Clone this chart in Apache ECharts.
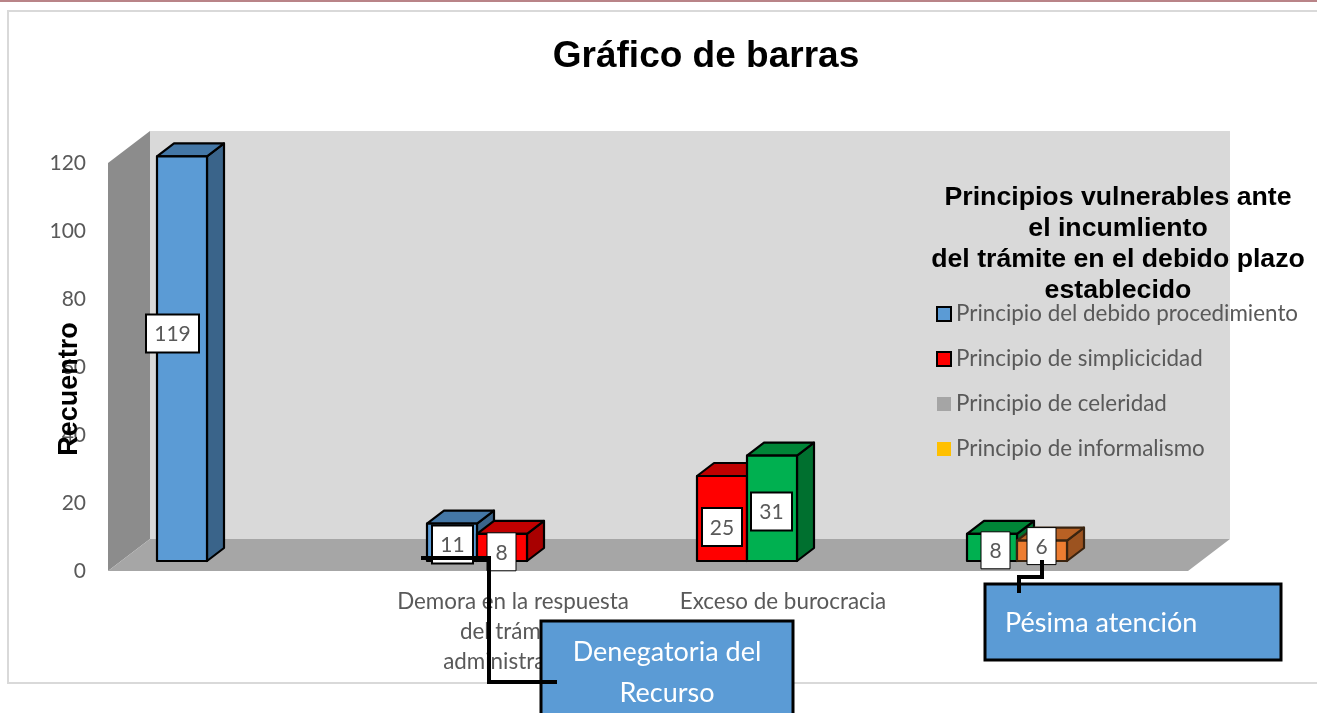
<!DOCTYPE html>
<html>
<head>
<meta charset="utf-8">
<title>Gráfico de barras</title>
<script src="https://cdn.jsdelivr.net/npm/echarts@6/dist/echarts.min.js"></script>
<style>
  html, body { margin: 0; padding: 0; background: #fff; }
  #main { width: 1317px; height: 713px; }
</style>
</head>
<body>
<div id="main"></div>
<script>
const categories = [
  'Denegatoria del\nRecurso',
  'Demora en la respuesta\ndel trámite\nadministrativo',
  'Exceso de burocracia',
  'Pésima atención'
]
const yTicks = [0, 20, 40, 60, 80, 100, 120]
const seriesNames = [
  'Principio del debido procedimiento',
  'Principio de simplicicidad',
  'Principio de celeridad',
  'Principio de informalismo'
]
const debidoProcedimiento = [119, 11, null, null]
const simplicidad = [null, 8, 25, null]
const celeridad = [null, null, 31, 8]
const informalismo = [null, null, null, 6]
const allValues = [debidoProcedimiento, simplicidad, celeridad, informalismo]

const fontText = 'Lato, "Open Sans", sans-serif'
const fontBold = '"Liberation Sans", Arial, sans-serif'
const textGrey = '#595959'

// front, top, side colour of each series box
const barColors = [
  ['#5B9BD5', '#4477A6', '#3A648A'],
  ['#FF0000', '#C00000', '#A80000'],
  ['#00B050', '#008537', '#00702F'],
  ['#ED7D31', '#B96124', '#9C5320']
]
const legendColors = ['#5B9BD5', '#FF0000', '#A5A5A5', '#FFC000']

// hand placed value boxes: dx, dy from the bar's top left corner, w, h, border width
const labelBoxes = {
  '0-0': [-11, 158, 53, 38, 2],
  '0-1': [5, 2, 41, 38, 2],
  '1-1': [10, -1, 29, 38, 1],
  '1-2': [5, 32, 40, 38, 2],
  '2-2': [4, 37, 41, 38, 2],
  '2-3': [14, -2, 29, 37, 1],
  '3-3': [10, -13, 29, 37, 1]
}

const wallDepthX = 42
const wallDepthY = 32
const barDepthX = 17
const barDepthY = 13
const barWidth = 50
const barFloorGap = 10

function renderWalls(params, api) {
  const cs = params.coordSys
  const y0 = api.coord([0, 0])[1]
  const yTop = api.coord([0, 120])[1]
  const x0 = cs.x
  const x1 = cs.x + cs.width
  return {
    type: 'group',
    children: [
      { type: 'rect', shape: { x: x0 + wallDepthX, y: yTop - wallDepthY, width: cs.width, height: y0 - yTop }, style: { fill: '#D9D9D9' } },
      { type: 'polygon', shape: { points: [[x0, yTop], [x0 + wallDepthX, yTop - wallDepthY], [x0 + wallDepthX, y0 - wallDepthY], [x0, y0]] }, style: { fill: '#8C8C8C' } },
      { type: 'polygon', shape: { points: [[x0, y0], [x1, y0], [x1 + wallDepthX, y0 - wallDepthY], [x0 + wallDepthX, y0 - wallDepthY]] }, style: { fill: '#A6A6A6' } }
    ]
  }
}

function makeRenderBar(seriesIndex) {
  return function (params, api) {
    const cat = api.value(0)
    const val = api.value(1)
    if (isNaN(val)) return
    // bars of a category sit side by side, empty series take no room
    let slot = 0
    for (let i = 0; i < seriesIndex; i++) {
      if (allValues[i][cat] !== null) slot++
    }
    const center = api.coord([cat, 0])
    const top = api.coord([cat, val])
    const x = center[0] - 86 + slot * barWidth
    const yTop = top[1] - barFloorGap
    const yBase = center[1] - barFloorGap
    const colors = barColors[seriesIndex]
    const line = { stroke: seriesIndex === 3 ? '#3a2410' : '#000', lineWidth: 2.2, lineJoin: 'round' }
    const children = [
      { type: 'polygon', shape: { points: [[x + barWidth, yTop], [x + barWidth + barDepthX, yTop - barDepthY], [x + barWidth + barDepthX, yBase - barDepthY], [x + barWidth, yBase]] }, style: Object.assign({ fill: colors[2] }, line) },
      { type: 'polygon', shape: { points: [[x, yTop], [x + barDepthX, yTop - barDepthY], [x + barWidth + barDepthX, yTop - barDepthY], [x + barWidth, yTop]] }, style: Object.assign({ fill: colors[1] }, line) },
      { type: 'rect', shape: { x: x, y: yTop, width: barWidth, height: yBase - yTop }, style: Object.assign({ fill: colors[0] }, line) }
    ]
    const box = labelBoxes[seriesIndex + '-' + cat]
    children.push({ type: 'rect', z2: 50, shape: { x: x + box[0], y: yTop + box[1], width: box[2], height: box[3] }, style: { fill: '#fff', stroke: '#000', lineWidth: box[4] } })
    children.push({ type: 'text', z2: 51, style: { text: String(val), x: x + box[0] + box[2] / 2, y: yTop + box[1] + box[3] / 2 + 1, align: 'center', verticalAlign: 'middle', fill: textGrey, fontFamily: fontText, fontSize: 21 } })
    return { type: 'group', children: children }
  }
}

const series = [{
  type: 'custom',
  name: 'walls',
  z: 1,
  silent: true,
  renderItem: renderWalls,
  data: [[0, 0]]
}]
seriesNames.forEach((name, idx) => {
  series.push({
    type: 'custom',
    name: name,
    z: 3,
    renderItem: makeRenderBar(idx),
    encode: { x: 0, y: 1 },
    data: allValues[idx].map((v, i) => [i, v])
  })
})

const option = {
  animation: false,
  title: [
    {
      text: 'Gráfico de barras',
      left: 701,
      top: 33,
      textAlign: 'center',
      textStyle: { fontFamily: fontBold, fontSize: 37, fontWeight: 'bold', color: '#000' }
    },
    {
      text: 'Principios vulnerables ante\nel incumliento\ndel trámite en el debido plazo\nestablecido',
      left: 1113,
      top: 177,
      textAlign: 'center',
      textStyle: { fontFamily: fontBold, fontSize: 26.7, fontWeight: 'bold', color: '#000', lineHeight: 31 }
    }
  ],
  grid: { left: 108, right: 129, top: 163, bottom: 142 },
  xAxis: {
    type: 'category',
    data: categories,
    axisLine: { show: false },
    axisTick: { show: false },
    axisLabel: {
      interval: 0,
      margin: 16,
      color: textGrey,
      fontFamily: fontText,
      fontSize: 22.4,
      lineHeight: 30,
      // first and last category name are shown in the callouts instead
      formatter: (v, i) => (i === 0 || i === 3 ? '' : v)
    }
  },
  yAxis: {
    type: 'value',
    min: yTicks[0],
    max: yTicks[yTicks.length - 1],
    interval: 20,
    axisLine: { show: false },
    axisTick: { show: false },
    splitLine: { show: false },
    axisLabel: { margin: 22, color: textGrey, fontFamily: fontText, fontSize: 21 }
  },
  legend: {
    orient: 'vertical',
    left: 931,
    top: 298,
    itemWidth: 14,
    itemHeight: 14,
    itemGap: 23,
    selectedMode: false,
    textStyle: { color: textGrey, fontFamily: fontText, fontSize: 22.4 },
    data: seriesNames.map((name, i) => ({
      name: name,
      icon: 'rect',
      itemStyle: { color: legendColors[i], borderColor: i < 2 ? '#000' : 'transparent', borderWidth: i < 2 ? 2 : 0 }
    }))
  },
  graphic: [
    { type: 'rect', z: 0, shape: { x: 0, y: 0, width: 1317, height: 2 }, style: { fill: '#B98488' } },
    { type: 'polyline', z: 0, shape: { points: [[1320, 11], [8, 11], [8, 683], [1320, 683]] }, style: { fill: 'none', stroke: '#D9D9D9', lineWidth: 2 } },
    { type: 'text', z: 20, rotation: Math.PI / 2, x: 70, y: 389, style: { text: 'Recuentro', align: 'center', verticalAlign: 'middle', fontFamily: fontBold, fontSize: 27, fontWeight: 'bold', fill: '#000' } },
    { type: 'rect', z: 30, shape: { x: 541, y: 621, width: 252, height: 100 }, style: { fill: '#5B9BD5', stroke: '#000', lineWidth: 3 } },
    { type: 'text', z: 31, x: 667, y: 652, style: { text: 'Denegatoria del', align: 'center', verticalAlign: 'middle', fontFamily: fontText, fontSize: 27, fill: '#fff' } },
    { type: 'text', z: 31, x: 667, y: 693, style: { text: 'Recurso', align: 'center', verticalAlign: 'middle', fontFamily: fontText, fontSize: 27, fill: '#fff' } },
    { type: 'polyline', z: 32, shape: { points: [[421, 558], [489, 558], [489, 682], [557, 682]] }, style: { fill: 'none', stroke: '#000', lineWidth: 4 } },
    { type: 'rect', z: 30, shape: { x: 985, y: 584, width: 296, height: 76 }, style: { fill: '#5B9BD5', stroke: '#000', lineWidth: 3 } },
    { type: 'text', z: 31, x: 1005, y: 623, style: { text: 'Pésima atención', align: 'left', verticalAlign: 'middle', fontFamily: fontText, fontSize: 27, fill: '#fff' } },
    { type: 'polyline', z: 32, shape: { points: [[1042, 560], [1042, 577], [1019, 577], [1019, 593]] }, style: { fill: 'none', stroke: '#000', lineWidth: 4 } }
  ],
  series: series
}

const myChart = echarts.init(document.getElementById('main'))
myChart.setOption(option)
</script>
</body>
</html>
